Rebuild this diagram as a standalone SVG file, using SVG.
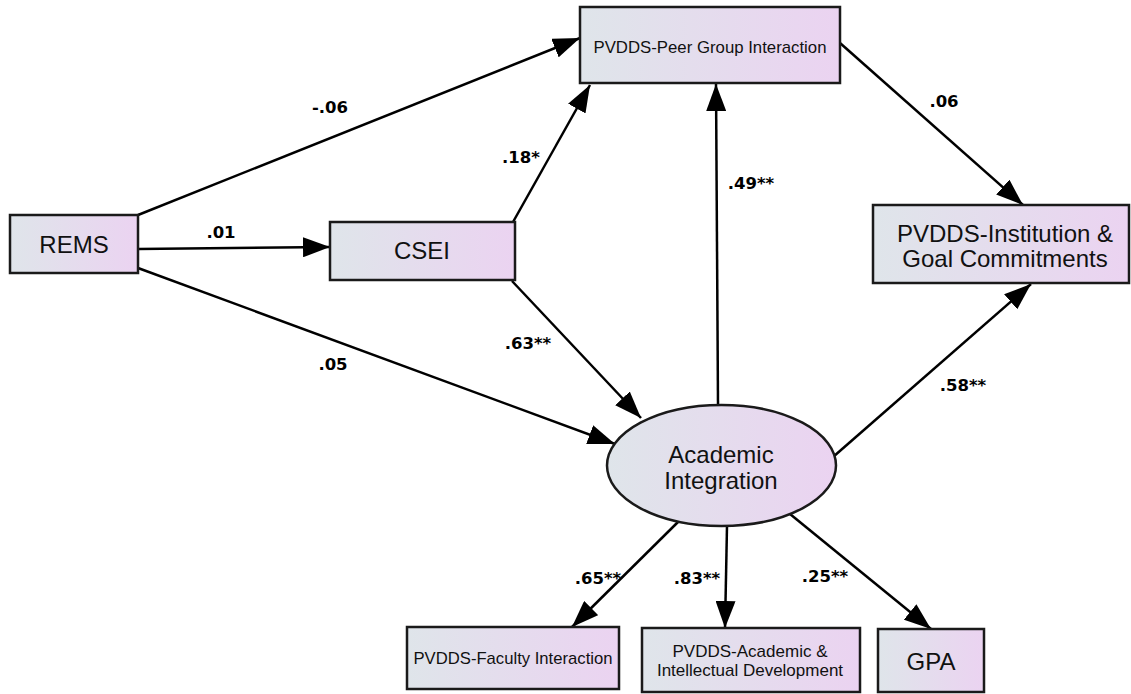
<svg xmlns="http://www.w3.org/2000/svg" width="1131" height="694" viewBox="0 0 1131 694">
<defs>
<linearGradient id="g" x1="0" y1="0" x2="1" y2="0">
<stop offset="0" stop-color="#dfe5ea"/>
<stop offset="1" stop-color="#ebd3f1"/>
</linearGradient>
<marker id="ah" markerUnits="userSpaceOnUse" markerWidth="28" markerHeight="20" refX="27" refY="10" orient="auto">
<path d="M0,0 L27,10 L0,20 z" fill="#000"/>
</marker>
</defs>
<style>
.box{fill:url(#g);stroke:#1a1a1a;stroke-width:2.5}
.big{font-family:"Liberation Sans",Arial,sans-serif;font-size:24px;fill:#111;text-anchor:middle}
.sm{font-family:"Liberation Sans",Arial,sans-serif;font-size:17px;fill:#111;text-anchor:middle}
.lbl{font-family:"DejaVu Sans",Verdana,sans-serif;font-weight:bold;font-size:16.5px;fill:#000;text-anchor:middle}
.c{stroke:#000;stroke-width:2.5;fill:none;marker-end:url(#ah)}
</style>
<rect width="1131" height="694" fill="#fff"/>
<g id="connectors">
<line class="c" x1="138" y1="215" x2="580" y2="38"/>
<line class="c" x1="138" y1="249" x2="330" y2="247"/>
<line class="c" x1="138" y1="268" x2="615" y2="444"/>
<line class="c" x1="513" y1="222" x2="590" y2="85"/>
<line class="c" x1="512" y1="281" x2="641" y2="418"/>
<line class="c" x1="718" y1="405" x2="716" y2="84"/>
<line class="c" x1="840" y1="43" x2="1023" y2="205"/>
<line class="c" x1="833" y1="457" x2="1031" y2="284"/>
<line class="c" x1="678" y1="522" x2="572" y2="627"/>
<line class="c" x1="727" y1="526" x2="725" y2="628"/>
<line class="c" x1="790" y1="514" x2="931" y2="629"/>
<text class="lbl" x="330" y="113">-.06</text>
<text class="lbl" x="221" y="238">.01</text>
<text class="lbl" x="333" y="370">.05</text>
<text class="lbl" x="521" y="163">.18*</text>
<text class="lbl" x="528" y="349">.63**</text>
<text class="lbl" x="751" y="189">.49**</text>
<text class="lbl" x="944" y="107">.06</text>
<text class="lbl" x="963" y="391">.58**</text>
<text class="lbl" x="598" y="584">.65**</text>
<text class="lbl" x="697" y="584">.83**</text>
<text class="lbl" x="825" y="582">.25**</text>
</g>
<g id="rems">
<rect class="box" x="10" y="215" width="128" height="58"/>
<text class="big" x="74" y="253">REMS</text>
</g>
<g id="csei">
<rect class="box" x="330" y="222" width="185" height="58"/>
<text class="big" x="422" y="259">CSEI</text>
</g>
<g id="peer">
<rect class="box" x="580" y="7" width="260" height="76"/>
<text class="sm" x="710" y="53" textLength="233" lengthAdjust="spacingAndGlyphs">PVDDS-Peer Group Interaction</text>
</g>
<g id="institution">
<rect class="box" x="873" y="205" width="256" height="78"/>
<text class="big" x="1005" y="242">PVDDS-Institution &amp;</text>
<text class="big" x="1005" y="267">Goal Commitments</text>
</g>
<g id="academic-integration">
<ellipse cx="721.5" cy="465.5" rx="114.5" ry="60.5" fill="url(#g)" stroke="#1a1a1a" stroke-width="2.5"/>
<text class="big" x="721" y="463">Academic</text>
<text class="big" x="721" y="489">Integration</text>
</g>
<g id="faculty">
<rect class="box" x="407" y="627" width="212" height="62"/>
<text class="sm" x="513" y="664" textLength="199" lengthAdjust="spacingAndGlyphs">PVDDS-Faculty Interaction</text>
</g>
<g id="academic-dev">
<rect class="box" x="642" y="628" width="218" height="64"/>
<text class="sm" x="750" y="657">PVDDS-Academic &amp;</text>
<text class="sm" x="750" y="676">Intellectual Development</text>
</g>
<g id="gpa">
<rect class="box" x="878" y="629" width="106" height="63"/>
<text class="big" x="931" y="670">GPA</text>
</g>
</svg>
